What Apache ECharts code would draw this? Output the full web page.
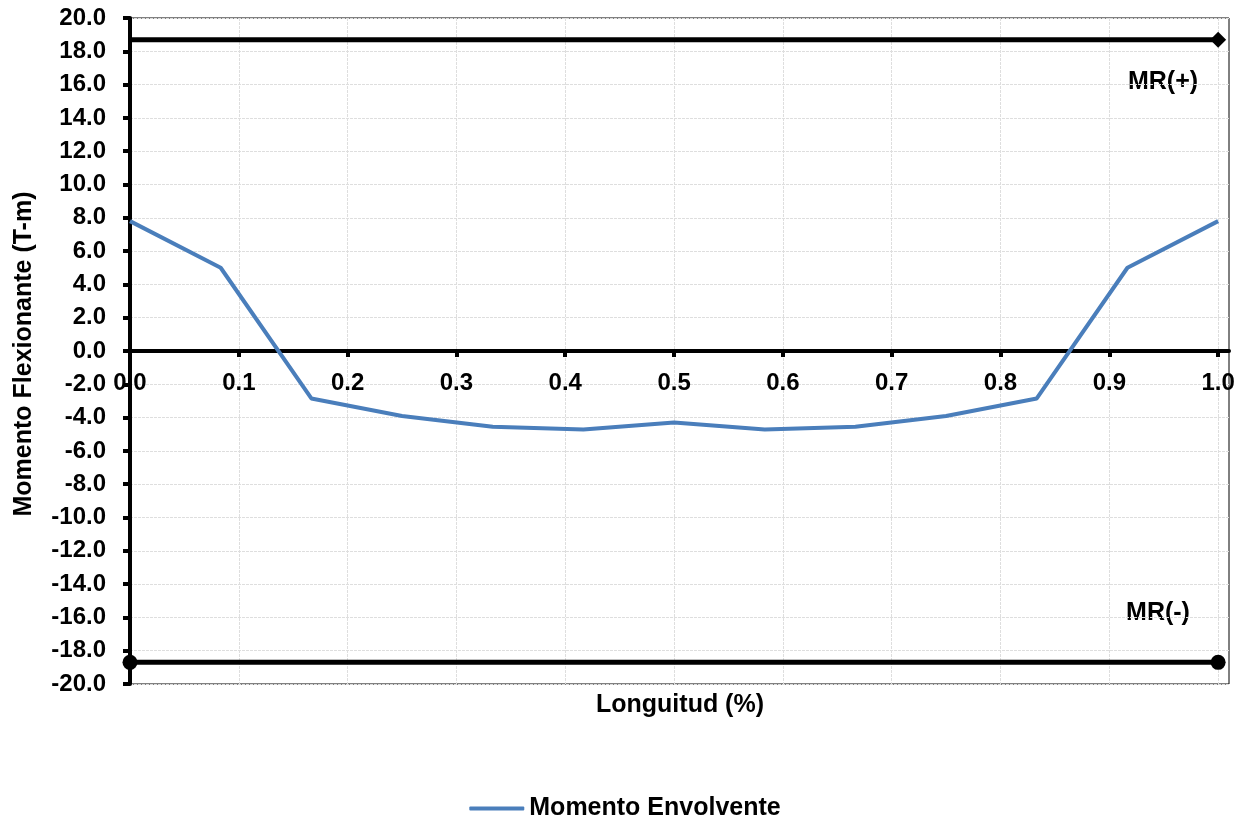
<!DOCTYPE html>
<html><head><meta charset="utf-8">
<script src="https://cdn.jsdelivr.net/npm/echarts@6/dist/echarts.min.js"></script>
<style>html,body{margin:0;padding:0;background:#fff}#c{width:1250px;height:819px}</style>
</head><body><div id="c"></div>
<script>
const xPos = [0, 1/12, 2/12, 3/12, 4/12, 5/12, 6/12, 7/12, 8/12, 9/12, 10/12, 11/12, 1];
const momento = [7.8, 5.0, -2.85, -3.9, -4.55, -4.72, -4.3, -4.72, -4.55, -3.9, -2.85, 5.0, 7.8];
const mrPos = 18.7;
const mrNeg = -18.7;
const xTicks = [0, 0.1, 0.2, 0.3, 0.4, 0.5, 0.6, 0.7, 0.8, 0.9, 1.0];
const font = 'Liberation Sans, Arial, sans-serif';

const chart = echarts.init(document.getElementById('c'));
chart.setOption({
  animation: false,
  grid: {left: 130, right: 21, top: 18, bottom: 135, show: true, borderColor: '#000', borderWidth: 1},
  xAxis: {
    type: 'value', min: 0, max: 1.01, interval: 0.1, position: 'bottom', offset: -333,
    axisLine: {onZero: false, lineStyle: {color: '#000', width: 4}},
    axisTick: {show: true, customValues: xTicks, inside: false, length: 6, lineStyle: {color: '#000', width: 4}},
    axisLabel: {customValues: xTicks, margin: 20, color: '#000', fontFamily: font, fontWeight: 'bold', fontSize: 24,
      formatter: v => v.toFixed(1)},
    splitLine: {show: true, lineStyle: {color: '#dedede', width: 1, type: [3, 1]}}
  },
  yAxis: {
    type: 'value', min: -20, max: 20, interval: 2,
    axisLine: {show: true, onZero: false, lineStyle: {color: '#000', width: 4}},
    axisTick: {show: true, length: 7, lineStyle: {color: '#000', width: 4}},
    axisLabel: {margin: 24, color: '#000', fontFamily: font, fontWeight: 'bold', fontSize: 24,
      formatter: v => v.toFixed(1)},
    splitLine: {show: true, lineStyle: {color: '#dedede', width: 1, type: [3, 1]}}
  },
  legend: {
    top: 791, left: 'center', itemWidth: 55, itemHeight: 4, itemGap: 10,
    icon: 'roundRect',
    data: ['Momento Envolvente'],
    textStyle: {color: '#000', fontFamily: font, fontWeight: 'bold', fontSize: 25}
  },
  graphic: [
    {type: 'text', x: 680, y: 705, style: {text: 'Longuitud (%)', fill: '#000', font: 'bold 25px ' + font, align: 'center', verticalAlign: 'middle'}},
    {type: 'text', x: 24, y: 354, rotation: Math.PI / 2, style: {text: 'Momento Flexionante (T-m)', fill: '#000', font: 'bold 25px ' + font, align: 'center', verticalAlign: 'middle'}},
    {type: 'text', x: 1163, y: 82, style: {text: 'MR(+)', fill: '#000', font: 'bold 25px ' + font, align: 'center', verticalAlign: 'middle'}},
    {type: 'text', x: 1158, y: 613, style: {text: 'MR(-)', fill: '#000', font: 'bold 25px ' + font, align: 'center', verticalAlign: 'middle'}}
  ],
  series: [
    {
      name: 'Momento Envolvente', type: 'line', symbol: 'none',
      lineStyle: {color: '#4a7ebb', width: 4}, itemStyle: {color: '#4a7ebb'},
      data: xPos.map((x, i) => [x, momento[i]]), z: 3
    },
    {
      name: 'MR(+)', type: 'line', symbolSize: 16,
      lineStyle: {color: '#000', width: 5}, itemStyle: {color: '#000'},
      data: [{value: [0, mrPos], symbol: 'none'}, {value: [1, mrPos], symbol: 'diamond'}], z: 4
    },
    {
      name: 'MR(-)', type: 'line', symbol: 'circle', symbolSize: 15,
      lineStyle: {color: '#000', width: 5}, itemStyle: {color: '#000'},
      data: [[0, mrNeg], [1, mrNeg]], z: 4
    }
  ]
});
</script>
</body></html>
